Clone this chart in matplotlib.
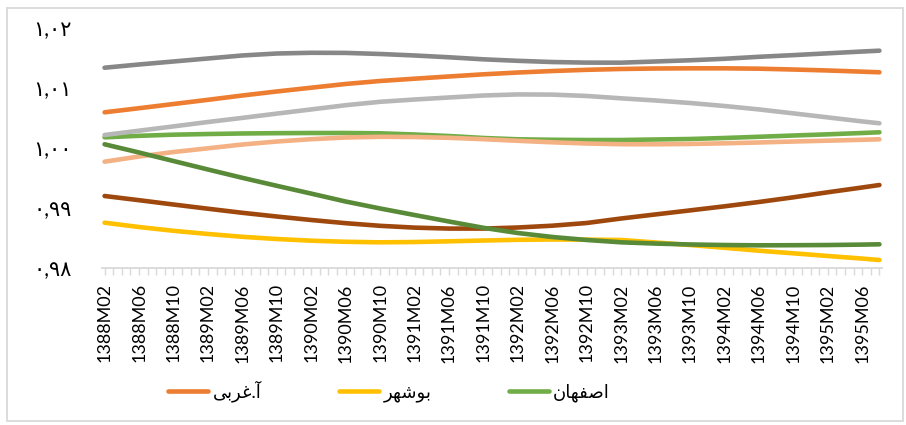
import matplotlib
matplotlib.use("Agg")
import matplotlib.pyplot as plt
from matplotlib.ticker import FixedLocator, FuncFormatter
from matplotlib.patches import Rectangle

plt.rcParams['font.family'] = ['Lato', 'DejaVu Sans']

# ---------------- data ----------------
all_months = [f"{y}M{m:02d}" for y in range(1388, 1396) for m in range(1, 13)]
categories = all_months[all_months.index("1388M02"):all_months.index("1395M08") + 1]
tick_labels = categories[::4]
point_months = categories[::4] + [categories[-1]]

gharbi = [1.00595, 1.00663, 1.00733, 1.00803, 1.00875, 1.00942, 1.01005, 1.01067,
          1.01117, 1.01155, 1.01192, 1.01228, 1.01258, 1.01283, 1.01303, 1.01317,
          1.01325, 1.01328, 1.01328, 1.01322, 1.01308, 1.01292, 1.01272, 1.01262]
bushehr = [0.98755, 0.98683, 0.98620, 0.98567, 0.98520, 0.98483, 0.98455, 0.98437,
           0.98428, 0.98433, 0.98445, 0.98458, 0.98470, 0.98475, 0.98473, 0.98467,
           0.98425, 0.98383, 0.98337, 0.98288, 0.98245, 0.98200, 0.98157, 0.98133]
esfahan = [1.00178, 1.00203, 1.00222, 1.00233, 1.00242, 1.00247, 1.00250, 1.00250,
           1.00245, 1.00225, 1.00200, 1.00167, 1.00145, 1.00137, 1.00133, 1.00133,
           1.00142, 1.00150, 1.00167, 1.00187, 1.00208, 1.00228, 1.00250, 1.00262]
series_gray = [1.01338, 1.01392, 1.01442, 1.01492, 1.01542, 1.01575, 1.01587, 1.01585,
               1.01567, 1.01542, 1.01512, 1.01478, 1.01453, 1.01433, 1.01423, 1.01422,
               1.01442, 1.01462, 1.01487, 1.01520, 1.01548, 1.01578, 1.01608, 1.01622]
series_lightgray = [1.00217, 1.00288, 1.00360, 1.00433, 1.00502, 1.00573, 1.00643, 1.00713,
                    1.00770, 1.00808, 1.00842, 1.00875, 1.00893, 1.00890, 1.00867, 1.00828,
                    1.00792, 1.00750, 1.00700, 1.00643, 1.00577, 1.00510, 1.00443, 1.00412]
series_brown = [0.99200, 0.99130, 0.99058, 0.98988, 0.98920, 0.98858, 0.98800, 0.98747,
                0.98703, 0.98673, 0.98657, 0.98657, 0.98675, 0.98705, 0.98750, 0.98825,
                0.98893, 0.98960, 0.99028, 0.99100, 0.99178, 0.99262, 0.99342, 0.99383]
series_peach = [0.99772, 0.99858, 0.99933, 0.99995, 1.00058, 1.00108, 1.00147, 1.00175,
                1.00187, 1.00183, 1.00170, 1.00147, 1.00120, 1.00095, 1.00075, 1.00063,
                1.00062, 1.00067, 1.00078, 1.00092, 1.00108, 1.00122, 1.00137, 1.00145]
series_darkgreen = [1.00062, 0.99925, 0.99783, 0.99642, 0.99503, 0.99370, 0.99240, 0.99108,
                    0.98992, 0.98883, 0.98775, 0.98670, 0.98583, 0.98517, 0.98467, 0.98428,
                    0.98407, 0.98392, 0.98383, 0.98378, 0.98380, 0.98383, 0.98390, 0.98395]

legend_names = ["آ.غربی", "بوشهر", "اصفهان"]
y_ticks = [0.98, 0.99, 1.00, 1.01, 1.02]

# ---------------- helpers ----------------
FORMS = {  # isolated, final, initial, medial
    'آ': ('\uFE81', '\uFE82', None, None),
    'ا': ('\uFE8D', '\uFE8E', None, None),
    'ب': ('\uFE8F', '\uFE90', '\uFE91', '\uFE92'),
    'ر': ('\uFEAD', '\uFEAE', None, None),
    'غ': ('\uFECD', '\uFECE', '\uFECF', '\uFED0'),
    'ی': ('\uFEEF', '\uFEF0', '\uFEF3', '\uFEF4'),
    'و': ('\uFEED', '\uFEEE', None, None),
    'ش': ('\uFEB5', '\uFEB6', '\uFEB7', '\uFEB8'),
    'ه': ('\uFEE9', '\uFEEA', '\uFEEB', '\uFEEC'),
    'ص': ('\uFEB9', '\uFEBA', '\uFEBB', '\uFEBC'),
    'ف': ('\uFED1', '\uFED2', '\uFED3', '\uFED4'),
    'ن': ('\uFEE5', '\uFEE6', '\uFEE7', '\uFEE8'),
}


def shape(text):
    out = []
    n = len(text)
    for i, ch in enumerate(text):
        if ch not in FORMS:
            out.append(ch)
            continue
        prev = text[i - 1] if i > 0 else None
        nxt = text[i + 1] if i < n - 1 else None
        jp = prev in FORMS and FORMS[prev][2] is not None
        jn = nxt in FORMS and FORMS[ch][2] is not None
        iso, fin, ini, med = FORMS[ch]
        if jp and jn:
            out.append(med)
        elif jp:
            out.append(fin)
        elif jn:
            out.append(ini)
        else:
            out.append(iso)
    return ''.join(reversed(out))


PERSIAN = str.maketrans('0123456789', '۰۱۲۳۴۵۶۷۸۹')


def fa_fmt(v, pos):
    return f"{v:.2f}".replace('.', ',').translate(PERSIAN)


# ---------------- plot ----------------
fig = plt.figure(figsize=(9.06, 4.25), dpi=100)
W, H = 906, 425
ax = fig.add_axes([102 / W, (H - 268) / H, (882 - 102) / W, (268 - 28) / H])

xpos = [categories.index(m) for m in point_months]

styles = [
    (gharbi, '#ED7D31'),
    (bushehr, '#FFC000'),
    (esfahan, '#70AD47'),
    (series_gray, '#878787'),
    (series_lightgray, '#B7B7B7'),
    (series_brown, '#9E480E'),
    (series_peach, '#F4B183'),
    (series_darkgreen, '#588A38'),
]
lines = []
for vals, col in styles:
    ln, = ax.plot(xpos, vals, color=col, lw=3.3, solid_capstyle='round',
                  solid_joinstyle='round')
    lines.append(ln)

ax.set_xlim(-0.3, len(categories) - 1 + 0.3)
ax.set_ylim(y_ticks[0], y_ticks[-1])

for s in ['left', 'top', 'right']:
    ax.spines[s].set_visible(False)
ax.spines['bottom'].set_color('#D9D9D9')
ax.spines['bottom'].set_linewidth(1.3)

ax.xaxis.set_major_locator(FixedLocator(list(range(0, len(categories), 4))))
ax.xaxis.set_minor_locator(FixedLocator(list(range(len(categories)))))
ax.set_xticklabels(tick_labels)
ax.tick_params(axis='x', which='both', direction='out', length=5, width=1,
               color='#D9D9D9')
ax.tick_params(axis='x', which='major', labelrotation=90, pad=6, labelsize=13,
               labelcolor='#000000')

ax.set_yticks(y_ticks)
ax.yaxis.set_major_formatter(FuncFormatter(fa_fmt))
ax.tick_params(axis='y', length=0, pad=22, labelsize=15, labelcolor='#000000')

fig.legend(lines[:3], [shape(t) for t in legend_names], loc='center',
           bbox_to_anchor=(0.4295, 0.08), ncol=3, frameon=False, fontsize=13,
           handlelength=2.2, handletextpad=0.25, columnspacing=4.3)

fig.patches.append(Rectangle((6.5 / W, 4 / H), (903 - 6.5) / W, (417 - 4) / H,
                             transform=fig.transFigure, fill=False,
                             edgecolor='#D9D9D9', lw=1.3))

fig.savefig('out.png', dpi=100)
